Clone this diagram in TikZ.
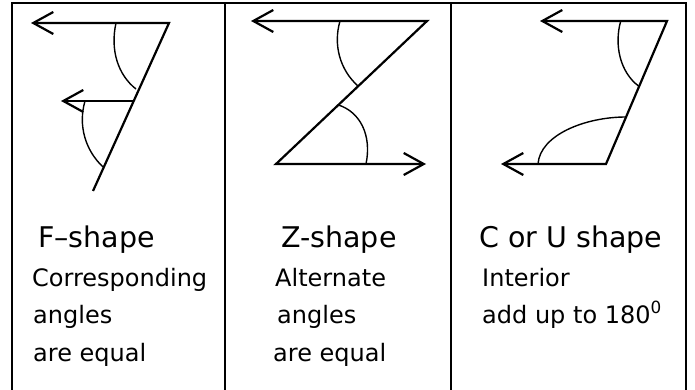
\documentclass[tikz,border=0pt]{standalone}
\usepackage{fontspec}
\setmainfont{DejaVu Sans}
\usetikzlibrary{arrows.meta}
\tikzset{
  frame/.style={line width=1.7pt},
  fig/.style={line width=2.2pt},
  arc/.style={line width=1.4pt},
  barb/.tip={Straight Barb[length=20pt,width=22pt,line width=2.2pt]},
  ttl/.style={anchor=base west, inner sep=0pt, font=\fontsize{28.5}{32}\selectfont},
  txt/.style={anchor=base west, inner sep=0pt, font=\fontsize{24}{28}\selectfont}
}
\begin{document}
\begin{tikzpicture}[x=1pt,y=-1pt]
\useasboundingbox (0,0) rectangle (695,390);
% frame
\draw[frame] (12,390) -- (12,3) -- (686,3) -- (686,390);
\draw[frame] (225,3) -- (225,390);
\draw[frame] (451,3) -- (451,390);

% F-shape
\coordinate (fA) at (31,23);
\coordinate (fV) at (169,23);
\coordinate (fB) at (93,191);
\coordinate (fM) at (133.7,101);
\coordinate (fT) at (61,101);
\draw[fig, barb-] (fA) -- (fV) -- (fB);
\draw[fig, barb-] (fT) -- (fM);
\draw[arc] (116,23) .. controls (110,50) and (118,75) .. (136,89);
\draw[arc] (85,101) .. controls (78,125) and (85,150) .. (103,167);

% Z-shape
\coordinate (zA) at (251,21);
\coordinate (zV) at (427,21);
\coordinate (zW) at (276,164);
\coordinate (zB) at (426,164);
\draw[fig, barb-barb] (zA) -- (zV) -- (zW) -- (zB);
\draw[arc] (340,21) .. controls (333,45) and (340,70) .. (358,86);
\draw[arc] (338.5,105) .. controls (360,112) and (372,135) .. (366,164);

% C-shape
\coordinate (cA) at (540,21);
\coordinate (cV) at (667,21);
\coordinate (cW) at (606,164);
\coordinate (cB) at (501,164);
\draw[fig, barb-barb] (cA) -- (cV) -- (cW) -- (cB);
\draw[arc] (620.7,21) .. controls (614,45) and (620,72) .. (638.5,86);
\draw[arc] (626,117) .. controls (585,117) and (540,135) .. (538,164);

% texts
\node[ttl] (t1) at (38,247) {F–shape};
\node[txt] (t1a) at (32,286) {Corresponding};
\node[txt] (t1b) at (33,323) {angles};
\node[txt] (t1c) at (33,361) {are equal};

\node[ttl] (t2) at (281,247) {Z-shape};
\node[txt] (t2a) at (275,286) {Alternate};
\node[txt] (t2b) at (277,323) {angles};
\node[txt] (t2c) at (273,361) {are equal};

\node[ttl] (t3) at (479,247) {C or U shape};
\node[txt] (t3a) at (482,286) {Interior};
\node[txt] (t3b) at (482,323) {add up to 180\textsuperscript{0}};
\end{tikzpicture}
\end{document}
